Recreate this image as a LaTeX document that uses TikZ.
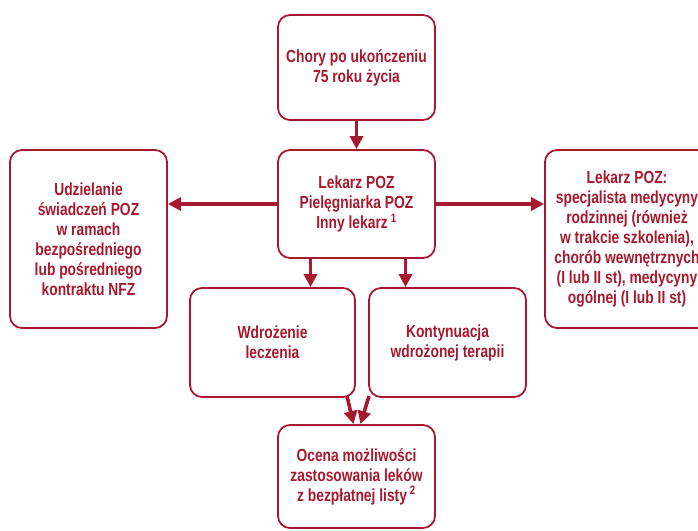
\documentclass[tikz,border=0pt]{standalone}
\usepackage{fontspec}
\setmainfont{Liberation Sans}[FakeStretch=0.79]
\usepackage{xcolor}
\usetikzlibrary{positioning,arrows.meta,calc}

\definecolor{pozred}{HTML}{A6192E}

\tikzset{
  box/.style={rectangle, draw=pozred, line width=1.8pt, rounded corners=12pt, fill=white,
    align=center, text=pozred, font=\fontsize{17.5}{20}\selectfont\bfseries, inner sep=1pt},
  flow/.style={draw=pozred, line width=3.6pt, -{Triangle[length=13pt,width=13pt]}}
}

\begin{document}
\begin{tikzpicture}[x=1pt,y=-1pt]

\useasboundingbox (0,0) rectangle (698,530);

% Boxes

\node[box, minimum width=157pt, minimum height=105pt] (PatientNode) at (356.5,67.5) {Chory po ukończeniu\\75 roku życia};
\node[box, minimum width=157pt, minimum height=108pt] (DoctorNode) at (356.5,204) {Lekarz POZ\\Pielęgniarka POZ\\Inny lekarz\,\textsuperscript{1}};
\node[box, minimum width=157pt, minimum height=178pt] (ServiceNode) at (88.5,239) {Udzielanie\\świadczeń POZ\\w ramach\\bezpośredniego\\lub pośredniego\\kontraktu NFZ};
\node[box, minimum width=164pt, minimum height=178pt] (SpecialistNode) at (627,239) {Lekarz POZ:\\specjalista medycyny\\rodzinnej (również\\w trakcie szkolenia),\\chorób wewnętrznych\\(I lub II st), medycyny\\ogólnej (I lub II st)};
\node[box, minimum width=165pt, minimum height=109pt] (TreatNode) at (272.5,342.5) {Wdrożenie\\leczenia};
\node[box, minimum width=157pt, minimum height=109pt] (ContinueNode) at (447.5,342.5) {Kontynuacja\\wdrożonej terapii};
\node[box, minimum width=157pt, minimum height=103pt] (AssessNode) at (356.5,476.5) {Ocena możliwości\\zastosowania leków\\z bezpłatnej listy\,\textsuperscript{2}};

% Arrows

\draw[flow] (PatientNode) -- (DoctorNode);
\draw[flow] (DoctorNode) -- (ServiceNode.east |- DoctorNode);
\draw[flow] (DoctorNode) -- (SpecialistNode.west |- DoctorNode);

\draw[flow] ([xshift=-46pt]DoctorNode.south) -- ([xshift=-46pt]DoctorNode.south |- TreatNode.north);
\draw[flow] ([xshift=49pt]DoctorNode.south) -- ([xshift=49pt]DoctorNode.south |- ContinueNode.north);

\coordinate (TreatOut) at (347,396);
\coordinate (ContinueOut) at (369,396);
\draw[flow] (TreatOut) -- ([xshift=-3pt]AssessNode.north);
\draw[flow] (ContinueOut) -- ([xshift=4pt]AssessNode.north);

\end{tikzpicture}
\end{document}
